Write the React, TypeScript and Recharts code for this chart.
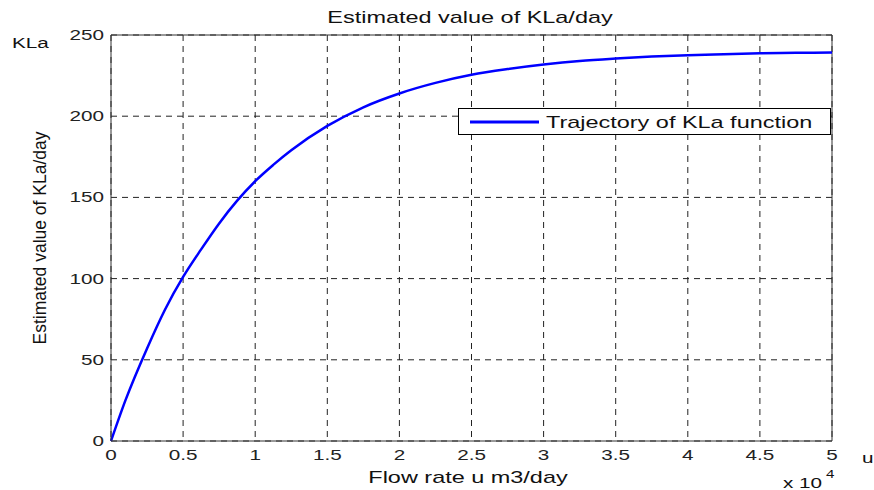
import { CartesianGrid, Legend, Line, LineChart, ReferenceLine, XAxis, YAxis } from 'recharts'

// flow rate u in units of 10^4 m3/day, and the estimated KLa
const flowRate = [0, 0.1, 0.25, 0.375, 0.5, 0.625, 0.75, 0.875, 1, 1.125, 1.25, 1.5, 1.75, 2, 2.25, 2.5, 2.75, 3, 3.25, 3.5, 3.75, 4, 4.25, 4.5, 4.75, 5]
const klaValues = [0, 25, 57, 81, 101, 118, 134, 148, 160, 170, 179, 194, 205.5, 214, 220.5, 225.5, 229, 231.8, 234, 235.5, 236.7, 237.6, 238.2, 238.7, 239, 239.3]
const xTicks = [0, 0.5, 1, 1.5, 2, 2.5, 3, 3.5, 4, 4.5, 5]
const yTicks = [0, 50, 100, 150, 200, 250]

const data = flowRate.map((u, i) => ({ u, kla: klaValues[i] }))

// the source image is stretched sideways, so the text is too
const SX = 1.38
const FONT = '"Liberation Sans", Arial, sans-serif'

function XTick({ x, y, payload }: any) {
  return (
    <text transform={`translate(${x},${y + 19}) scale(${SX},1)`} textAnchor="middle" fontSize={15} fill="#222" fontFamily={FONT}>
      {String(payload.value)}
    </text>
  )
}

function YTick({ x, y, payload }: any) {
  return (
    <text transform={`translate(${x - 7},${y + 5}) scale(${SX},1)`} textAnchor="end" fontSize={15} fill="#222" fontFamily={FONT}>
      {String(payload.value)}
    </text>
  )
}

function LegendBox() {
  return (
    <svg width={374} height={28} style={{ display: 'block' }}>
      <rect x={0.5} y={0.5} width={372} height={26} fill="#fff" stroke="#000" />
      <line x1={12} x2={81} y1={14} y2={14} stroke="#0000ff" strokeWidth={3} />
      <text transform={`translate(88,20) scale(${SX},1)`} fontSize={17} fill="#111" fontFamily={FONT}>
        Trajectory of KLa function
      </text>
    </svg>
  )
}

export default function App() {
  return (
    <div style={{ position: 'relative', width: 874, height: 490, background: '#fff' }}>
      <style>{'body{margin:0}'}</style>
      <LineChart width={874} height={490} data={data} margin={{ top: 35, right: 42, bottom: 0, left: 0 }}>
        <CartesianGrid stroke="#222" strokeDasharray="6 5" />
        <XAxis
          dataKey="u"
          type="number"
          domain={[0, 5]}
          ticks={xTicks}
          tick={<XTick />}
          tickLine={false}
          tickSize={0}
          tickMargin={0}
          stroke="#333"
          height={49}
        />
        <YAxis
          type="number"
          domain={[0, 250]}
          ticks={yTicks}
          tick={<YTick />}
          tickLine={false}
          tickSize={0}
          tickMargin={0}
          stroke="#333"
          width={111}
        />
        <ReferenceLine y={250} stroke="#333" />
        <ReferenceLine x={5} stroke="#333" />
        <Line
          dataKey="kla"
          type="monotone"
          stroke="#0000ff"
          strokeWidth={2.5}
          dot={false}
          isAnimationActive={false}
          name="Trajectory of KLa function"
        />
        <Legend
          layout="vertical"
          align="center"
          verticalAlign="middle"
          content={<LegendBox />}
          wrapperStyle={{ position: 'absolute', top: 108, left: 458, width: 374 }}
        />
      </LineChart>
      <svg width={874} height={490} style={{ position: 'absolute', left: 0, top: 0, pointerEvents: 'none' }}>
        <text transform={`translate(470,23) scale(${SX},1)`} textAnchor="middle" fontSize={17} fill="#111" fontFamily={FONT}>
          Estimated value of KLa/day
        </text>
        <text transform={`translate(468,483) scale(${SX},1)`} textAnchor="middle" fontSize={17} fill="#111" fontFamily={FONT}>
          Flow rate u m3/day
        </text>
        <text transform={`translate(12,48) scale(${SX},1)`} fontSize={15} fill="#111" fontFamily={FONT}>
          KLa
        </text>
        <text transform={`translate(783,488) scale(${SX},1)`} fontSize={15} fill="#111" fontFamily={FONT}>
          x 10
        </text>
        <text transform={`translate(826,478) scale(${SX},1)`} fontSize={11} fill="#111" fontFamily={FONT}>
          4
        </text>
        <text transform={`translate(862,463) scale(${SX},1)`} fontSize={15} fill="#111" fontFamily={FONT}>
          u
        </text>
        <text
          transform={`translate(46,238) scale(${SX},1) rotate(-90)`}
          textAnchor="middle"
          fontSize={13}
          fill="#111"
          fontFamily={FONT}
          textLength={213}
          lengthAdjust="spacingAndGlyphs"
        >
          Estimated value of KLa/day
        </text>
      </svg>
    </div>
  )
}
